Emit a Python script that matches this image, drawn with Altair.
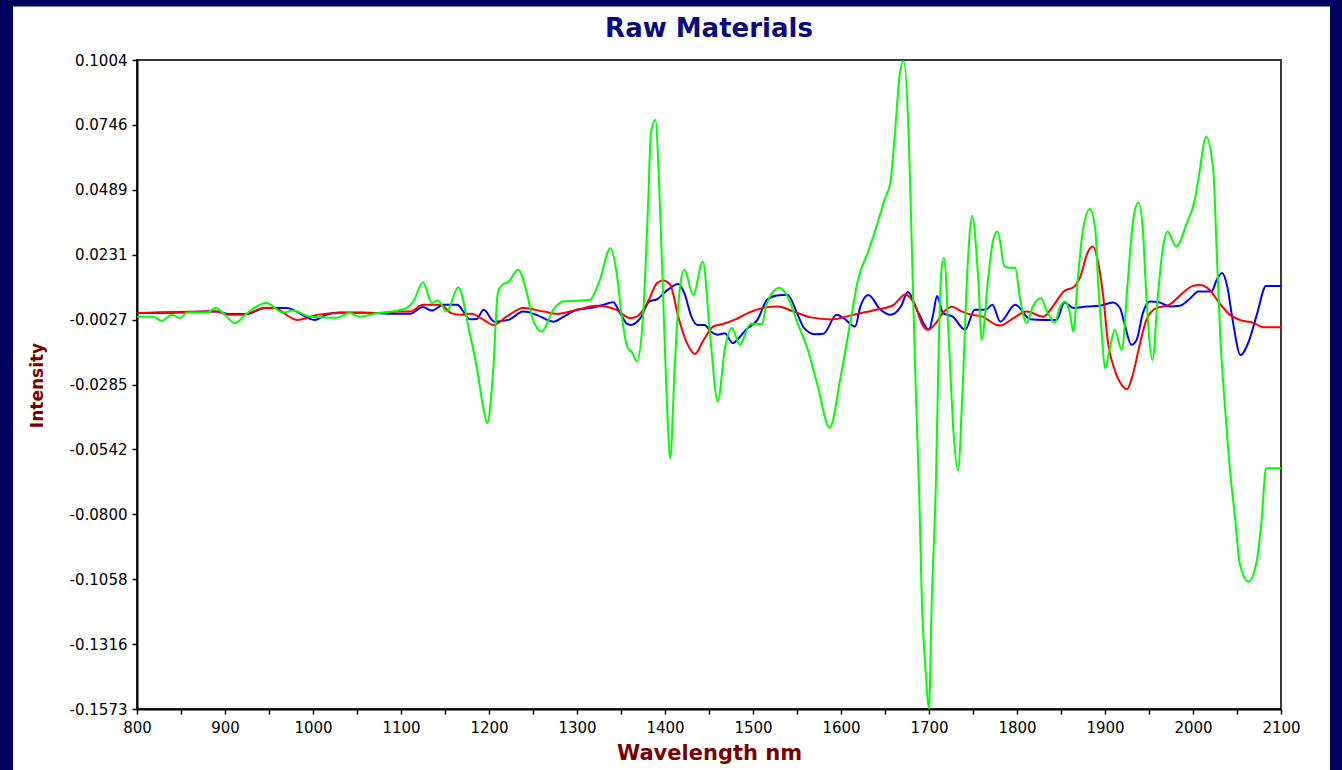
import altair as alt
import pandas as pd

# ---------------- data ----------------
green_nm = [800, 818, 828, 840, 849, 857, 880, 889, 900, 911, 925, 947, 966, 977, 997, 1027, 1042, 1053, 1074,
            1101, 1114, 1125, 1135, 1142, 1152, 1165, 1178, 1186, 1193, 1198, 1205, 1210, 1215, 1222, 1233, 1243,
            1250, 1260, 1273, 1284, 1315, 1318, 1326, 1338, 1345, 1351, 1357, 1363, 1368, 1375, 1381, 1384, 1389,
            1394, 1398, 1402, 1406, 1411, 1417, 1422, 1432, 1443, 1451, 1460, 1468, 1476, 1485, 1497, 1510, 1516,
            1530, 1539, 1551, 1562, 1574, 1587, 1600, 1612, 1619, 1631, 1642, 1650, 1656, 1661, 1667, 1671, 1677,
            1681, 1685, 1689, 1692, 1696, 1700, 1703, 1708, 1711, 1714, 1717, 1723, 1728, 1733, 1738, 1744, 1749,
            1756, 1760, 1767, 1773, 1778, 1786, 1793, 1798, 1803, 1811, 1818, 1827, 1835, 1843, 1849, 1855, 1860,
            1864, 1869, 1875, 1883, 1889, 1892, 1896, 1900, 1906, 1911, 1919, 1926, 1932, 1938, 1943, 1947, 1954,
            1960, 1966, 1971, 1981, 1993, 2002, 2006, 2015, 2023, 2027, 2031, 2036, 2042, 2048, 2053, 2063, 2072,
            2078, 2083, 2097, 2100]
green_val = [-0.0015, -0.0015, -0.0031, -0.0008, -0.0021, 0.0001, 0.0001, 0.0020, -0.0008, -0.0041, -0.0001,
             0.0039, 0.0001, 0.0009, -0.0015, -0.0019, -0.0001, -0.0015, -0.0001, 0.0012, 0.0045, 0.0122, 0.0039,
             0.0049, 0.0005, 0.0102, -0.0079, -0.0214, -0.0365, -0.0438, -0.0214, 0.0079, 0.0111, 0.0123, 0.0171,
             0.0079, -0.0028, -0.0074, 0.0012, 0.0045, 0.0052, 0.0065, 0.0131, 0.0257, 0.0159, -0.0016, -0.0135,
             -0.0159, -0.0193, -0.0016, 0.0449, 0.0715, 0.0766, 0.0449, 0.0052, -0.0345, -0.0577, -0.0214, 0.0103,
             0.0171, 0.0071, 0.0204, -0.0079, -0.0352, -0.0143, -0.0060, -0.0127, -0.0044, -0.0044, 0.0041,
             0.0100, 0.0067, -0.0044, -0.0143, -0.0297, -0.0457, -0.0246, -0.0008, 0.0127, 0.0244, 0.0362, 0.0455,
             0.0515, 0.0700, 0.0954, 0.1000, 0.0700, 0.0195, -0.0314, -0.0734, -0.1159, -0.1411, -0.1570, -0.1159,
             -0.0651, -0.0143, 0.0160, 0.0218, -0.0143, -0.0482, -0.0626, -0.0314, 0.0195, 0.0385, 0.0131, -0.0107,
             0.0131, 0.0290, 0.0323, 0.0184, 0.0179, 0.0179, 0.0065, -0.0040, 0.0025, 0.0058, 0.0000, -0.0039,
             0.0025, 0.0045, 0.0000, -0.0074, 0.0131, 0.0330, 0.0412, 0.0330, 0.0131, -0.0067, -0.0220, -0.0134,
             -0.0067, -0.0147, 0.0131, 0.0369, 0.0438, 0.0330, 0.0065, -0.0187, 0.0065, 0.0263, 0.0323, 0.0263,
             0.0356, 0.0449, 0.0528, 0.0698, 0.0568, 0.0238, -0.0094, -0.0357, -0.0623, -0.0822, -0.0993, -0.1067,
             -0.0993, -0.0822, -0.0617, -0.0617, -0.0617]

red_nm = [800, 880, 890, 905, 920, 945, 955, 982, 1005, 1030, 1080, 1095, 1110, 1125, 1133, 1145, 1157, 1168,
          1180, 1194, 1205, 1220, 1239, 1262, 1277, 1300, 1322, 1345, 1360, 1368, 1380, 1391, 1398, 1406, 1415,
          1425, 1434, 1444, 1455, 1466, 1480, 1494, 1514, 1528, 1547, 1566, 1589, 1612, 1640, 1660, 1673, 1685,
          1692, 1699, 1707, 1718, 1726, 1737, 1749, 1760, 1777, 1781, 1796, 1811, 1830, 1842, 1853, 1865, 1872,
          1880, 1886, 1892, 1898, 1903, 1911, 1919, 1925, 1931, 1939, 1947, 1958, 1973, 1988, 2000, 2008, 2019,
          2030, 2042, 2053, 2068, 2080, 2100]
red_val = [-0.0001, 0.0005, 0.0005, -0.0008, -0.0008, 0.0019, 0.0019, -0.0028, -0.0008, -0.0001, -0.0001,
           0.0005, 0.0005, 0.0032, 0.0032, 0.0032, -0.0001, -0.0008, -0.0004, -0.0028, -0.0048, -0.0015, 0.0019,
           0.0005, -0.0004, 0.0012, 0.0028, 0.0012, -0.0021, -0.0015, 0.0039, 0.0118, 0.0128, 0.0111, -0.0015,
           -0.0120, -0.0163, -0.0107, -0.0054, -0.0044, -0.0026, -0.0001, 0.0021, 0.0025, 0.0004, -0.0018,
           -0.0026, -0.0009, 0.0012, 0.0032, 0.0073, 0.0024, -0.0044, -0.0067, -0.0044, 0.0008, 0.0024, 0.0006,
           -0.0008, -0.0014, -0.0048, -0.0050, -0.0021, 0.0005, -0.0015, 0.0032, 0.0085, 0.0104, 0.0144, 0.0237,
           0.0263, 0.0204, 0.0065, -0.0107, -0.0226, -0.0286, -0.0303, -0.0253, -0.0134, -0.0028, 0.0019, 0.0032,
           0.0078, 0.0107, 0.0111, 0.0091, 0.0039, -0.0008, -0.0028, -0.0039, -0.0057, -0.0057]

blue_nm = [800, 850, 880, 892, 905, 925, 945, 970, 1002, 1015, 1030, 1055, 1095, 1110, 1125, 1135, 1148, 1164,
           1171, 1178, 1186, 1194, 1206, 1222, 1239, 1254, 1273, 1285, 1300, 1315, 1330, 1341, 1349, 1357, 1361,
           1372, 1382, 1391, 1403, 1415, 1422, 1430, 1437, 1445, 1452, 1460, 1468, 1477, 1485, 1492, 1505, 1516,
           1527, 1539, 1551, 1558, 1570, 1580, 1595, 1603, 1616, 1622, 1631, 1645, 1656, 1668, 1676, 1688, 1700,
           1705, 1709, 1716, 1727, 1741, 1752, 1764, 1772, 1781, 1798, 1815, 1830, 1845, 1854, 1864, 1879, 1894,
           1909, 1917, 1922, 1930, 1936, 1943, 1951, 1962, 1974, 1985, 1997, 2006, 2021, 2027, 2033, 2039, 2045,
           2054, 2064, 2073, 2083, 2100]
blue_val = [-0.0001, 0.0001, 0.0005, 0.0005, -0.0005, -0.0005, 0.0019, 0.0019, -0.0028, -0.0008, 0.0001,
            0.0001, -0.0004, -0.0004, 0.0023, 0.0009, 0.0032, 0.0032, 0.0005, -0.0025, -0.0024, 0.0012, -0.0035,
            -0.0028, 0.0005, -0.0008, -0.0035, -0.0015, 0.0012, 0.0019, 0.0032, 0.0042, -0.0001, -0.0044, -0.0048,
            -0.0021, 0.0045, 0.0054, 0.0091, 0.0115, 0.0078, -0.0015, -0.0048, -0.0048, -0.0074, -0.0087, -0.0081,
            -0.0120, -0.0096, -0.0067, -0.0028, 0.0052, 0.0069, 0.0072, -0.0009, -0.0060, -0.0085, -0.0083,
            -0.0008, -0.0021, -0.0054, 0.0025, 0.0071, 0.0012, -0.0008, 0.0025, 0.0083, -0.0001, -0.0066, -0.0001,
            0.0067, -0.0001, -0.0015, -0.0067, 0.0012, 0.0012, 0.0032, -0.0035, 0.0032, -0.0025, -0.0028, -0.0028,
            0.0041, 0.0019, 0.0025, 0.0028, 0.0041, 0.0019, -0.0041, -0.0127, -0.0107, -0.0001, 0.0045, 0.0041,
            0.0025, 0.0028, 0.0058, 0.0085, 0.0085, 0.0131, 0.0158, 0.0104, -0.0028, -0.0167, -0.0107, -0.0001,
            0.0107, 0.0107]

x_tick_values = [800, 850, 900, 950, 1000, 1050, 1100, 1150, 1200, 1250, 1300, 1350, 1400, 1450, 1500, 1550,
                 1600, 1650, 1700, 1750, 1800, 1850, 1900, 1950, 2000, 2050, 2100]
y_tick_values = [0.1004, 0.0746, 0.0489, 0.0231, -0.0027, -0.0285, -0.0542, -0.0800, -0.1058, -0.1316, -0.1573]

x_domain = [800, 2100]
y_domain = [-0.1573, 0.1004]

# ---------------- chart ----------------
red_df = pd.DataFrame({"nm": red_nm, "value": red_val})
blue_df = pd.DataFrame({"nm": blue_nm, "value": blue_val})
green_df = pd.DataFrame({"nm": green_nm, "value": green_val})

x_enc = alt.X(
    "nm:Q",
    scale=alt.Scale(domain=x_domain, nice=False, zero=False),
    axis=alt.Axis(
        title="Wavelength nm",
        values=x_tick_values,
        format="d",
        labelExpr="datum.value % 100 === 0 ? datum.label : ''",
        grid=False,
        tickSize=5,
        labelPadding=6,
        labelFlush=False,
        labelOverlap=False,
        titleX=572,
        titleY=44,
        titleBaseline="middle",
        titleAlign="center",
    ),
)
y_enc = alt.Y(
    "value:Q",
    scale=alt.Scale(domain=y_domain, nice=False, zero=False),
    axis=alt.Axis(
        title="Intensity",
        values=y_tick_values,
        labelExpr="(datum.value < 0 ? '-' : '') + format(abs(datum.value), '.4f')",
        grid=False,
        tickSize=5,
        labelPadding=5,
        labelFlush=False,
        labelOverlap=False,
        titleAngle=270,
        titleX=-100,
        titleY=325,
        titleBaseline="middle",
        titleAlign="center",
    ),
)


def series(df, color):
    return alt.Chart(df).mark_line(
        color=color, strokeWidth=2, interpolate="monotone", clip=True
    ).encode(x=x_enc, y=y_enc)


frame = alt.Chart(pd.DataFrame({"k": [0]})).mark_rect(
    filled=False, stroke="#00005e", strokeWidth=13
).encode(
    x=alt.value(-130.5), x2=alt.value(1199.5), y=alt.value(-60), y2=alt.value(740)
)

chart = alt.layer(
    series(blue_df, "#0000ff"),
    series(red_df, "#ff0000"),
    series(green_df, "#00ff00"),
    frame,
).properties(
    width=1144,
    height=649,
    autosize=alt.AutoSizeParams(type="none"),
    padding={"left": 137, "top": 60, "right": 61, "bottom": 61},
    title=alt.TitleParams(
        "Raw Materials",
        anchor="middle",
        font="DejaVu Sans",
        fontSize=26,
        fontWeight="bold",
        color="#0a0a80",
        baseline="alphabetic",
        offset=0,
        dy=69.5,
    ),
).configure(
    background="white",
).configure_view(
    stroke="#3a3a3a", strokeWidth=2
).configure_axis(
    domainColor="#000000",
    domainWidth=2,
    tickColor="#000000",
    tickWidth=1.5,
    labelFont="DejaVu Sans",
    labelFontSize=15,
    labelColor="#000000",
    titleFont="DejaVu Sans",
    titleFontWeight="bold",
    titleColor="#7a0000",
).configure_axisX(
    titleFontSize=21
).configure_axisY(
    titleFontSize=17
)

chart.save("out.html", embed_options={"renderer": "svg", "actions": False})
